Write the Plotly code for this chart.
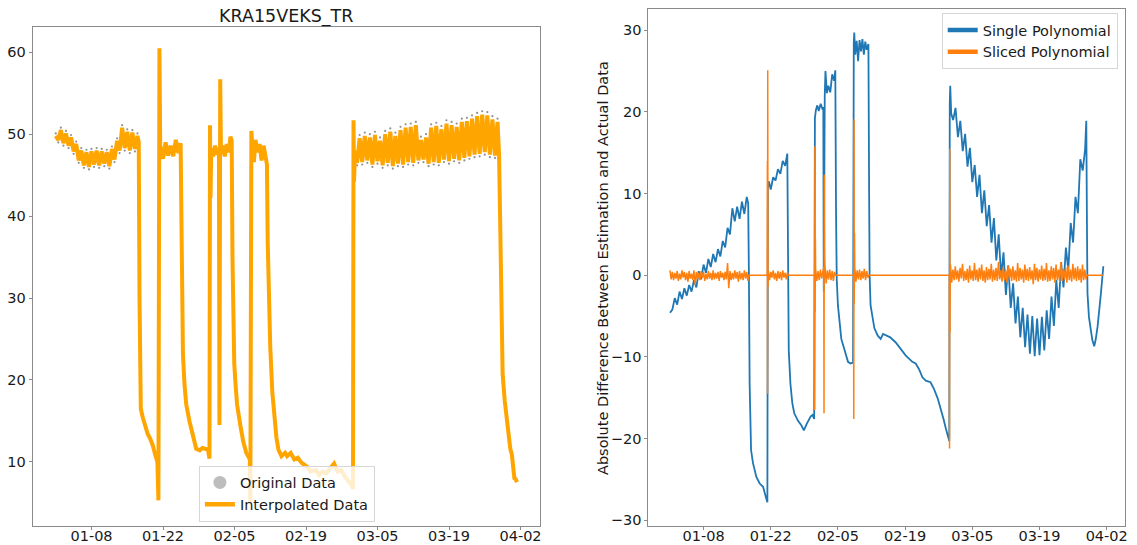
import pandas as pd
import plotly.graph_objects as go

BASE = pd.Timestamp("2018-01-01")

# ---------------- KRA15VEKS_TR supply temperature (days since 2018-01-01) ----------------
temp_day = [
    0.0, 0.5, 1.0, 1.5, 2.0, 2.5, 3.0, 3.5, 4.0, 4.5, 5.0, 5.5, 6.0, 6.5, 7.0, 7.5,
    8.0, 8.5, 9.0, 9.5, 10.0, 10.5, 11.0, 11.5, 12.0, 12.5, 13.0, 13.5, 14.0, 14.5,
    15.0, 15.5, 16.0, 16.25,
    16.4, 16.5, 16.65, 17.0, 17.5, 18.0, 18.5, 19.0, 19.5, 19.9, 20.1, 20.3, 20.45,
    21.0, 21.5, 22.0, 22.5, 23.0, 23.5, 24.0, 24.45,
    24.6, 24.75, 24.9, 25.2, 25.55, 26.2, 26.9, 27.5, 28.2, 28.7, 29.2, 29.8, 30.1,
    30.2, 30.3, 30.45, 30.8, 31.2, 31.6, 31.95, 32.05, 32.2, 32.35, 32.7, 33.1, 33.5,
    33.9, 34.2, 34.45,
    34.6, 34.75, 34.95, 35.2, 35.5, 36.1, 36.7, 37.3, 37.8, 38.0, 38.1, 38.2,
    38.3, 38.55, 38.8, 39.1, 39.5, 39.9, 40.3, 40.7, 41.0, 41.35,
    41.5, 41.75, 42.0, 42.4, 42.8, 43.2, 43.6, 44.2, 44.9, 45.3, 46.0, 46.7, 47.4,
    48.1, 49.2, 49.9, 50.9, 51.6, 52.3, 53.0, 53.7, 54.5, 55.2, 55.9, 56.6, 57.3,
    57.9, 58.2,
    58.3, 58.4, 58.6,
    59.0, 59.5, 60.0, 60.5, 61.0, 61.5, 62.0, 62.5, 63.0, 63.5, 64.0, 64.5, 65.0,
    65.5, 66.0, 66.5, 67.0, 67.5, 68.0, 68.5, 69.0, 69.5, 70.0, 70.5, 71.0, 71.5,
    72.0, 72.5, 73.0, 73.5, 74.0, 74.5, 75.0, 75.5, 76.0, 76.5, 77.0, 77.5, 78.0,
    78.5, 79.0, 79.5, 80.0, 80.5, 81.0, 81.5, 82.0, 82.5, 83.0, 83.5, 84.0, 84.5,
    85.0, 85.5, 86.0, 86.5, 86.8,
    86.95, 87.2, 87.5, 87.9, 88.3, 88.7, 89.0, 89.3, 89.55, 89.8, 90.05, 90.3,
]
temp_val = [
    49.8, 49.3, 50.5, 48.9, 50.1, 48.6, 49.6, 47.9, 48.8, 46.8, 48.0, 46.2, 47.8, 46.0, 47.9, 46.3,
    48.0, 46.2, 47.9, 46.4, 47.8, 46.1, 48.2, 46.9, 49.2, 48.0, 50.8, 48.3, 50.3, 48.0,
    50.2, 48.2, 49.8, 49.0,
    30.0, 20.0, 16.5, 15.5, 14.2, 13.4, 12.8, 12.0, 10.8, 10.0, 5.3, 60.5, 48.6,
    47.0, 49.0, 47.4, 48.6, 47.3, 49.3, 47.7, 48.9,
    40.0, 30.0, 23.2, 19.5, 17.0, 14.9, 13.3, 11.6, 11.4, 11.7, 11.6, 11.5, 10.4,
    51.1, 42.2, 48.3, 47.3, 48.6, 47.5, 48.3, 14.5, 56.7, 47.6, 48.6, 47.3, 48.8,
    47.8, 49.7, 49.2,
    35.0, 27.0, 22.0, 19.5, 17.0, 14.6, 12.5, 11.1, 10.5, 10.3, 5.0, 19.5,
    50.4, 47.8, 46.6, 49.3, 47.8, 48.8, 46.8, 48.6, 47.2, 46.3,
    36.8, 28.0, 24.0, 18.5, 15.0, 13.0, 11.5, 10.7, 11.1, 10.7, 11.1, 10.3, 10.5,
    9.9, 9.4, 8.8, 9.0, 8.4, 8.8, 8.6, 9.2, 9.8, 8.8, 9.0, 8.2, 7.6,
    7.2, 6.7,
    51.7, 44.2, 48.0,
    46.5, 49.5, 46.6, 49.8, 46.8, 49.6, 46.3, 49.9, 46.7, 49.2, 46.2, 50.0, 46.5,
    50.3, 46.1, 49.8, 46.4, 50.5, 46.3, 50.8, 46.6, 50.9, 46.5, 51.1, 46.8, 49.3,
    46.9, 49.6, 46.4, 50.8, 46.6, 51.0, 46.5, 50.6, 46.9, 51.3, 46.7, 51.1, 47.0,
    50.9, 46.8, 51.5, 47.1, 51.6, 47.3, 51.9, 47.5, 52.2, 47.6, 52.4, 47.8, 52.3,
    47.5, 51.8, 47.4, 51.5, 47.5,
    41.9, 28.3, 20.7, 17.5, 15.3, 12.6, 11.6, 10.9, 8.8, 8.0, 7.9, 7.5,
]

# Raw readings that reach just past the resampled curve at the daily peaks and troughs
orig_day = [
    0.0, 0.5, 1.0, 1.5, 2.0, 2.5, 3.0, 3.5, 4.0, 4.5, 5.0, 5.5, 6.0, 6.5, 7.0, 7.5,
    8.0, 8.5, 9.0, 9.5, 10.0, 10.5, 11.0, 11.5, 12.0, 12.5, 13.0, 13.5, 14.0, 14.5,
    15.0, 15.5, 16.0,
    59.0, 59.5, 60.0, 60.5, 61.0, 61.5, 62.0, 62.5, 63.0, 63.5, 64.0, 64.5, 65.0,
    65.5, 66.0, 66.5, 67.0, 67.5, 68.0, 68.5, 69.0, 69.5, 70.0, 70.5, 71.0, 71.5,
    72.0, 72.5, 73.0, 73.5, 74.0, 74.5, 75.0, 75.5, 76.0, 76.5, 77.0, 77.5, 78.0,
    78.5, 79.0, 79.5, 80.0, 80.5, 81.0, 81.5, 82.0, 82.5, 83.0, 83.5, 84.0, 84.5,
    85.0, 85.5, 86.0, 86.5,
]
orig_val = [
    50.1, 49.0, 50.8, 48.6, 50.4, 48.3, 49.9, 47.6, 49.1, 46.5, 48.3, 45.9,
    48.1, 45.7, 48.2, 46.0, 48.3, 45.9, 48.2, 46.1, 48.1, 45.8, 48.5, 46.6,
    49.5, 47.7, 51.1, 48.0, 50.6, 47.7, 50.5, 47.9, 50.1,
    46.2, 49.9, 46.3, 50.2, 46.5, 50.0, 46.0, 50.3, 46.4, 49.6, 45.9, 50.4, 46.2,
    50.7, 45.8, 50.2, 46.1, 50.9, 46.0, 51.2, 46.3, 51.3, 46.2, 51.5, 46.5, 49.7,
    46.6, 50.0, 46.1, 51.2, 46.3, 51.4, 46.2, 51.0, 46.6, 51.7, 46.4, 51.5, 46.7,
    51.3, 46.5, 51.9, 46.8, 52.0, 47.0, 52.3, 47.2, 52.6, 47.3, 52.8, 47.5, 52.7,
    47.2, 52.2, 47.1, 51.9,
]

# ---------------- residuals: single polynomial over the whole period ----------------
single_day = [
    0.0, 0.5, 1.0, 1.5, 2.0, 2.5, 3.0, 3.5, 4.0, 4.5, 5.0, 5.5, 6.0, 6.5, 7.0, 7.5,
    8.0, 8.5, 9.0, 9.5, 10.0, 10.5, 11.0, 11.5, 12.0, 12.5, 13.0, 13.5, 14.0, 14.5,
    15.0, 15.5, 16.0, 16.3,
    16.45, 16.6, 16.9, 17.3, 18.0, 18.7, 19.4, 19.7, 20.05, 20.3,
    20.4, 20.6, 21.0, 21.5, 22.0, 22.5, 23.0, 23.5, 24.0, 24.45,
    24.6, 24.75, 25.1, 25.5, 25.9, 26.65, 27.4, 27.9, 28.5, 29.3, 29.7, 30.05,
    30.2, 30.4, 30.7, 31.0, 31.4, 31.8, 31.95, 32.05, 32.25, 32.4, 32.7, 33.0, 33.4,
    33.8, 34.2, 34.45,
    34.6, 34.75, 35.0, 35.35, 35.7, 36.1, 36.5, 37.1, 37.6, 38.15,
    38.3, 38.4, 38.6, 38.9, 39.2, 39.5, 39.8, 40.1, 40.4, 40.7, 41.0, 41.35,
    41.5, 41.6, 41.8, 42.2, 42.6, 43.3, 43.9, 44.4, 45.1, 45.9, 47.0, 48.0, 49.1,
    49.8, 50.5, 51.2, 51.9, 52.6, 53.3, 54.3, 55.0, 55.8, 56.5, 57.0, 57.5, 58.0, 58.2,
    58.3, 58.4, 58.6,
    59.0, 59.5, 60.0, 60.5, 61.0, 61.5, 62.0, 62.5, 63.0, 63.5, 64.0, 64.5, 65.0,
    65.5, 66.0, 66.5, 67.0, 67.5, 68.0, 68.5, 69.0, 69.5, 70.0, 70.5, 71.0, 71.5,
    72.0, 72.5, 73.0, 73.5, 74.0, 74.5, 75.0, 75.5, 76.0, 76.5, 77.0, 77.5, 78.0,
    78.5, 79.0, 79.5, 80.0, 80.5, 81.0, 81.5, 82.0, 82.5, 83.0, 83.5, 84.0, 84.5,
    85.0, 85.5, 86.0, 86.5, 86.75,
    86.9, 87.0, 87.3, 87.7, 88.0, 88.4, 88.7, 89.1, 89.4, 89.8, 90.3,
]
single_val = [
    -4.6, -4.2, -2.8, -3.6, -2.0, -2.9, -1.6, -2.5, -1.2, -2.0, -0.6, -1.5, 0.5, -0.5, 1.3, 0.3,
    2.0, 1.0, 2.6, 1.6, 3.2, 2.3, 4.2, 3.4, 5.8, 5.0, 8.2, 6.6, 8.4, 6.9,
    9.0, 7.5, 9.6, 8.8,
    0.0, -13.3, -21.4, -23.0, -24.7, -25.5, -25.9, -26.7, -27.3, -27.8,
    10.8, 11.5, 10.5, 12.0, 11.6, 13.0, 12.4, 14.0, 13.4, 14.9,
    5.0, -9.2, -13.3, -15.7, -16.9, -17.8, -18.4, -19.0, -18.2, -17.3, -17.1, -17.6,
    19.2, 20.2, 20.8, 20.1, 21.0, 20.3, 20.6, -2.0, 22.0, 25.0, 22.3, 23.2, 22.4,
    24.6, 23.8, 25.1,
    8.0, -0.5, -3.7, -5.7, -7.8, -8.6, -9.4, -10.6, -10.8, -10.7,
    28.5, 29.7, 27.0, 28.7, 26.2, 28.8, 27.4, 28.9, 27.0, 28.6, 27.6, 28.3,
    10.0, 0.0, -3.7, -5.3, -6.5, -7.4, -7.8, -7.2, -7.4, -7.6, -8.2, -9.0, -9.8,
    -10.2, -10.6, -10.8, -11.5, -12.5, -12.9, -13.1, -13.9, -15.1, -16.4, -17.6, -18.8, -19.8, -20.3,
    21.0, 23.2, 19.8,
    19.0, 20.5, 16.9, 18.9, 15.2, 17.3, 13.3, 15.6, 11.4, 13.5, 9.6, 12.3, 7.6,
    10.4, 6.0, 8.6, 4.0, 7.0, 1.8, 5.0, -0.2, 2.8, -2.4, 1.2, -4.0, -1.0,
    -5.9, -2.6, -7.6, -4.0, -8.8, -4.8, -9.6, -5.0, -9.9, -5.3, -9.8, -5.1, -9.2,
    -4.3, -7.8, -2.6, -6.2, -0.6, -4.0, 1.6, -1.5, 3.4, 0.6, 6.4, 4.0, 9.6,
    7.6, 14.2, 12.8, 15.4, 18.9,
    5.0, -2.2, -5.1, -6.7, -7.9, -8.7, -7.9, -6.3, -4.7, -2.2, 1.1,
]

# ---------------- residuals: polynomial fitted per operating run ----------------
# 6-hourly residuals inside each run (first value at the run's start day)
sliced_run_start = [0.0, 20.5, 30.35, 32.3, 38.5, 58.45]
sliced_run_jan = [
    0.6, -0.5, 0.4, -0.6, 0.3, -0.4, 0.5, -0.7, 0.2, -0.5, 0.6, -0.3, 0.4, -0.6, 0.3, -0.8,
    0.5, -0.4, 0.2, -0.6, 0.6, -1.2, 0.4, -0.5, 0.3, -0.6, 0.5, -0.3, 0.4, -0.7, 0.2, -0.5,
    0.5, -0.4, 0.3, -0.6, 0.6, -0.5, 0.3, -0.4, 0.4, -0.7, 0.5, -0.3, 0.3, -0.6, 0.4, -0.5,
    1.5, -1.6, 0.5, -0.6, 0.3, -0.5, 0.6, -0.4, 0.4, -0.8, 0.5, -0.5, 0.3, -0.6, 0.6, -0.4,
    0.4, -0.7,
]
sliced_run_late_jan = [0.5, -0.6, 0.4, -0.3, 0.6, -0.5, 0.3, -0.7, 0.5, -0.4, 0.4, -0.6, 0.6, -0.3, 0.3, -0.5, 0.4]
sliced_run_feb_a = [0.8, -0.7, 0.5, -0.6, 0.7, -0.4, 0.5]
sliced_run_feb_b = [1.2, -1.0, 0.6, -0.5, 0.7, -0.6, 0.5, -0.7, 0.4]
sliced_run_feb_c = [1.0, -0.8, 0.6, -0.5, 0.7, -0.6, 0.5, -0.4, 0.8, -0.6, 0.5, -0.3]
sliced_run_mar = [
    1.3, -0.9, 0.7, -0.6, 1.1, -0.5, 0.6, -0.8, 0.9, -0.4, 1.4, -0.7, 0.5, -0.6, 0.8, -0.9, 1.2, -0.5, 0.6, -0.7,
    1.5, -0.6, 0.7, -0.8, 0.9, -0.5, 1.3, -0.7, 0.6, -0.9, 1.0, -0.6, 0.8, -0.5, 1.4, -0.8, 0.7, -0.6, 0.9, -0.7,
    1.6, -0.5, 0.6, -0.8, 1.0, -0.6, 0.7, -0.9, 1.2, -0.5, 0.8, -0.7, 1.1, -0.6, 0.6, -0.8, 1.5, -0.7, 0.9, -0.5,
    0.7, -0.9, 1.3, -0.6, 0.8, -0.7, 1.0, -0.5, 0.6, -1.1, 1.4, -0.6, 0.9, -0.8, 0.7, -0.5, 1.2, -0.7, 0.8, -0.6,
    1.5, -0.8, 0.6, -0.7, 1.1, -0.5, 0.9, -0.9, 1.3, -0.6, 0.7, -0.8, 1.6, -0.7, 0.8, -0.5, 1.0, -0.9, 1.2, -0.6,
    0.7, -0.8, 1.4, -0.5, 0.9, -0.7, 1.1, -0.6, 0.8, -0.9, 1.3, -0.6, 0.7, -0.5,
]
sliced_step_days = 0.25
# Start-up transients at the run boundaries
sliced_spike_day = [20.3, 20.33, 20.37, 20.42, 30.15, 30.2, 30.25, 30.3, 32.05, 32.1, 32.15, 32.2, 32.25,
                    38.3, 38.35, 38.4, 38.45, 58.25, 58.3, 58.35, 58.4]
sliced_spike_val = [14.0, -14.5, 25.1, -1.5, -16.5, 15.8, -4.5, 4.5, 1.0, -16.9, 12.3, -10.0, 2.0,
                    -17.6, 19.1, -3.5, 5.2, -21.2, 15.5, -7.0, 1.2]
# Shut-down stretches where the sliced fit is exact
sliced_flat_day = [16.35, 20.25, 24.55, 30.1, 34.55, 38.25, 41.4, 58.2, 86.85, 90.3]

# ---------------- assemble time axes ----------------
def to_time(days):
    return [BASE + pd.Timedelta(days=d) for d in days]

sliced_pts = []
runs = [sliced_run_jan, sliced_run_late_jan, sliced_run_feb_a, sliced_run_feb_b, sliced_run_feb_c, sliced_run_mar]
for start, vals in zip(sliced_run_start, runs):
    sliced_pts += [(start + i * sliced_step_days, v) for i, v in enumerate(vals)]
sliced_pts += list(zip(sliced_spike_day, sliced_spike_val))
sliced_pts += [(d, 0.0) for d in sliced_flat_day]
sliced_pts.sort(key=lambda p: p[0])
sliced_day = [p[0] for p in sliced_pts]
sliced_val = [p[1] for p in sliced_pts]

all_days = temp_day + single_day
lo, hi = min(all_days), max(all_days)
pad = 0.05 * (hi - lo)
x_range = [BASE + pd.Timedelta(days=lo - pad), BASE + pd.Timedelta(days=hi + pad)]

FONT = "DejaVu Sans"
TXT = "#1a1a1a"
FRAME = "#8a8a8a"
W, H = 1137, 545

fig = go.Figure()

# left panel
fig.add_trace(go.Scatter(x=to_time(orig_day), y=orig_val, mode="markers",
                         marker=dict(size=2.2, color="rgba(100,100,100,0.7)"),
                         showlegend=False, xaxis="x", yaxis="y", hoverinfo="skip"))
fig.add_trace(go.Scatter(x=to_time(temp_day), y=temp_val, mode="lines",
                         line=dict(color="orange", width=4),
                         showlegend=False, xaxis="x", yaxis="y"))
fig.add_trace(go.Scatter(x=[None], y=[None], mode="markers", name="Original Data",
                         marker=dict(size=13, color="#bdbdbd"), legend="legend",
                         xaxis="x", yaxis="y"))
fig.add_trace(go.Scatter(x=[None], y=[None], mode="lines", name="Interpolated Data",
                         line=dict(color="orange", width=4.5), legend="legend",
                         xaxis="x", yaxis="y"))

# right panel
fig.add_trace(go.Scatter(x=to_time(single_day), y=single_val, mode="lines",
                         line=dict(color="#1f77b4", width=1.8),
                         showlegend=False, xaxis="x2", yaxis="y2"))
fig.add_trace(go.Scatter(x=to_time(sliced_day), y=sliced_val, mode="lines",
                         line=dict(color="#ff7f0e", width=1.5),
                         showlegend=False, xaxis="x2", yaxis="y2"))
fig.add_trace(go.Scatter(x=[None], y=[None], mode="lines", name="Single Polynomial",
                         line=dict(color="#1f77b4", width=4.5), legend="legend2",
                         xaxis="x2", yaxis="y2"))
fig.add_trace(go.Scatter(x=[None], y=[None], mode="lines", name="Sliced Polynomial",
                         line=dict(color="#ff7f0e", width=4.5), legend="legend2",
                         xaxis="x2", yaxis="y2"))

def px_x(v):
    return v / W

def px_y(v):
    return (H - v) / H

axis_common = dict(showline=True, mirror=True, linecolor=FRAME, linewidth=1,
                   ticks="outside", ticklen=3, tickcolor=FRAME, tickwidth=1,
                   showgrid=False, zeroline=False,
                   tickfont=dict(family=FONT, size=14.5, color=TXT), automargin=False)
date_axis = dict(type="date", tickformat="%m-%d", tick0="2018-01-08",
                 dtick=14 * 86400000, range=x_range, ticklabelstandoff=-6)

fig.update_layout(
    width=W, height=H, margin=dict(l=0, r=0, t=0, b=0),
    paper_bgcolor="white", plot_bgcolor="white",
    font=dict(family=FONT, size=14.5, color=TXT),
    xaxis=dict(domain=[px_x(32.7), px_x(540)], anchor="y", **date_axis, **axis_common),
    yaxis=dict(domain=[px_y(525.5), px_y(27.3)], anchor="x", range=[2.23, 63.05],
               dtick=10, tick0=0, **axis_common),
    xaxis2=dict(domain=[px_x(648.3), px_x(1125)], anchor="y2", **date_axis, **axis_common),
    yaxis2=dict(domain=[px_y(525.5), px_y(9.3)], anchor="x2", range=[-30.64, 32.56],
                dtick=10, tick0=0, **axis_common),
    legend=dict(x=px_x(286.9), xanchor="center", y=px_y(521.5), yanchor="bottom",
                bgcolor="rgba(255,255,255,0.8)", bordercolor="#d6d6d6", borderwidth=1,
                font=dict(family=FONT, size=14.5, color=TXT), itemsizing="trace"),
    legend2=dict(x=px_x(1117.7), xanchor="right", y=px_y(13), yanchor="top",
                 bgcolor="rgba(255,255,255,0.8)", bordercolor="#d6d6d6", borderwidth=1,
                 font=dict(family=FONT, size=14.5, color=TXT), itemsizing="trace"),
    annotations=[
        dict(text="KRA15VEKS_TR", x=px_x(286.4), y=px_y(16.7), xref="paper", yref="paper",
             xanchor="center", yanchor="middle", showarrow=False,
             font=dict(family=FONT, size=17.5, color=TXT)),
        dict(text="Absolute Difference Between Estimation and Actual Data",
             x=px_x(603), y=px_y(268), xref="paper", yref="paper", textangle=-90,
             xanchor="center", yanchor="middle", showarrow=False,
             font=dict(family=FONT, size=14.5, color=TXT)),
    ],
)

fig.write_html("out.html")
